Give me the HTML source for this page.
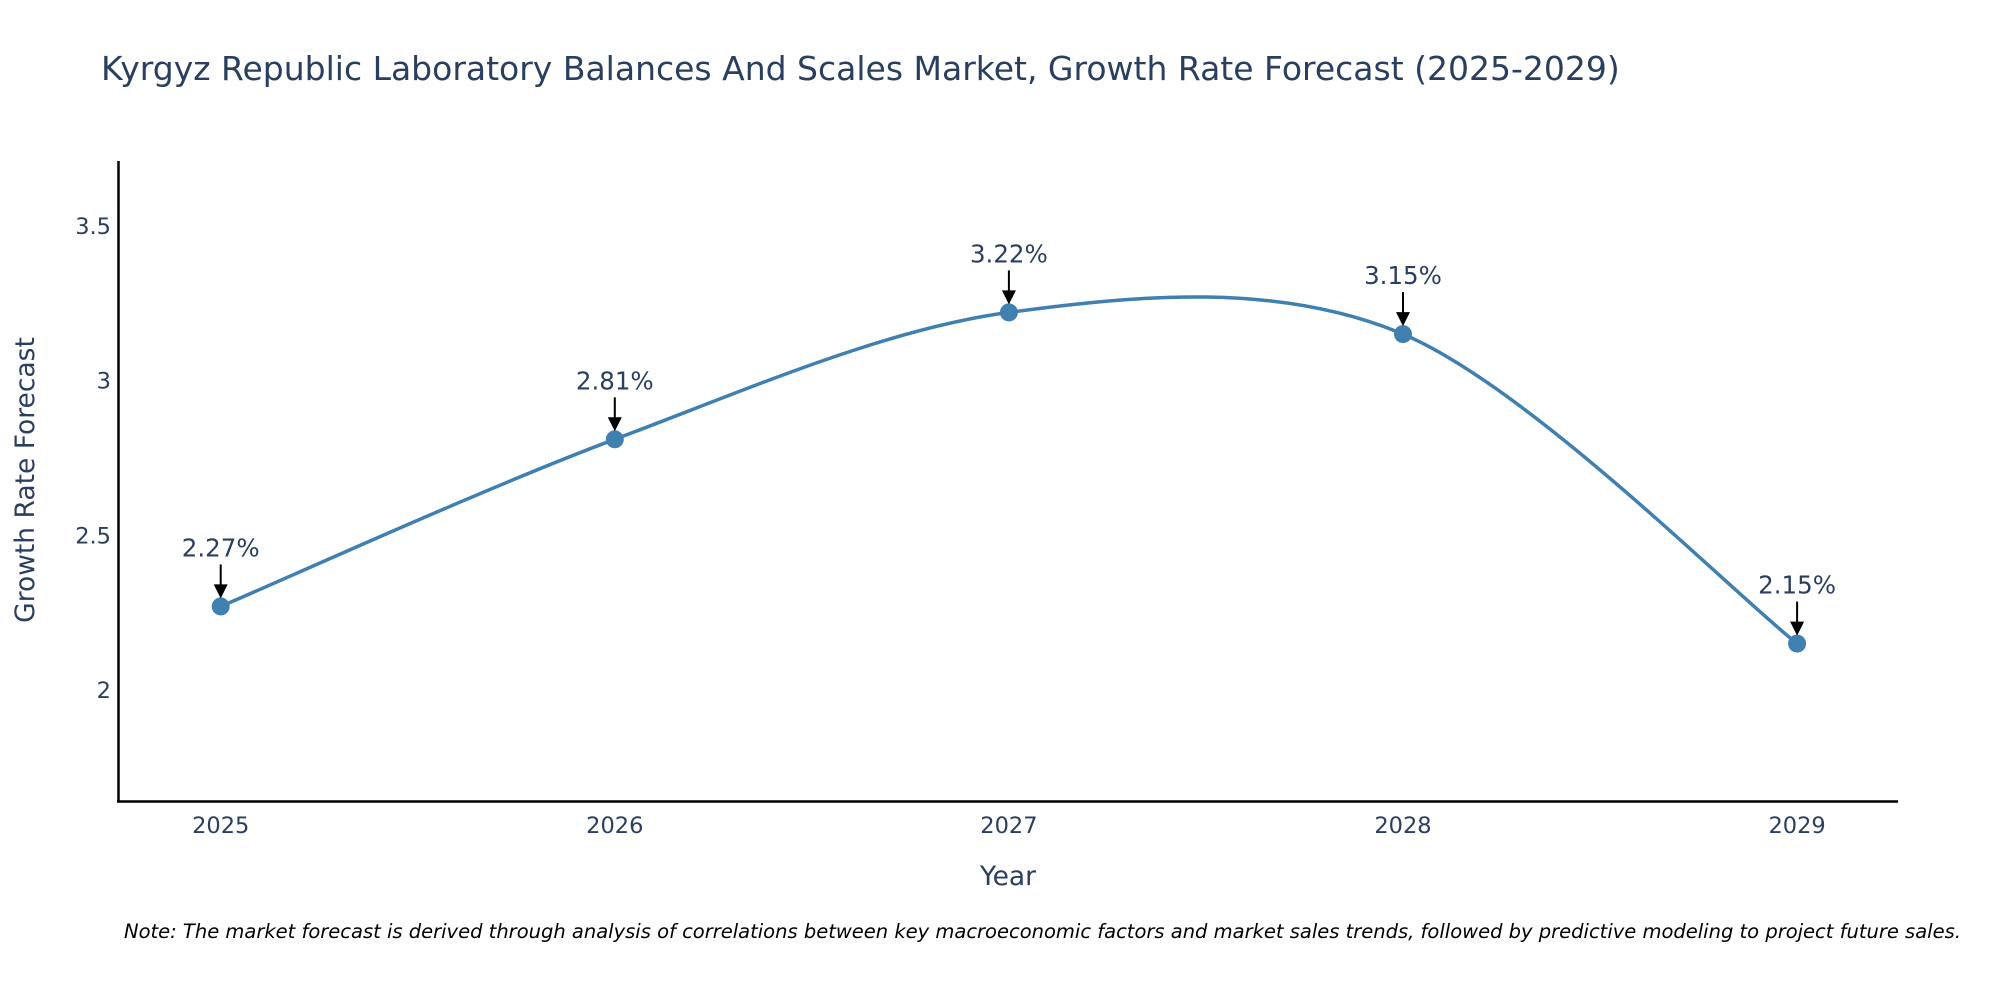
<!DOCTYPE html>
<html><head><meta charset="utf-8"><style>
body{margin:0;background:#fff;}
svg{display:block;font-family:"DejaVu Sans","Liberation Sans",sans-serif;}
</style></head><body>
<svg id="chart" width="2000" height="1000" viewBox="0 0 2000 1000">
<rect width="2000" height="1000" fill="#fff"/>
<text x="101" y="80" font-size="33" fill="#2a3f5f">Kyrgyz Republic Laboratory Balances And Scales Market, Growth Rate Forecast (2025-2029)</text>
<g id="yticks"></g>
<g id="xticks"></g>
<line x1="118.5" y1="161" x2="118.5" y2="802" stroke="#000" stroke-width="2.5"/>
<line x1="117" y1="801.5" x2="1898" y2="801.5" stroke="#000" stroke-width="2.5"/>
<text transform="translate(34,480) rotate(-90)" text-anchor="middle" font-size="26.5" fill="#2a3f5f">Growth Rate Forecast</text>
<text x="1008" y="885" text-anchor="middle" font-size="26.5" fill="#2a3f5f">Year</text>
<g id="series"></g>
<text x="124" y="938" font-size="19.5" font-style="italic" fill="#000">Note: The market forecast is derived through analysis of correlations between key macroeconomic factors and market sales trends, followed by predictive modeling to project future sales.</text>
</svg>
<script>
const years = [2025, 2026, 2027, 2028, 2029];
const growth = [2.27, 2.81, 3.22, 3.15, 2.15];
const labels = ["2.27%", "2.81%", "3.22%", "3.15%", "2.15%"];
const yTickVals = [2, 2.5, 3, 3.5];
const yTickText = ["2", "2.5", "3", "3.5"];

const NS = "http://www.w3.org/2000/svg";
const xS = v => 220.7 + (v - 2025) * 394.1;
const yS = v => 690 - (v - 2) * 309.5;
function mk(tag, attrs, parent) {
  const e = document.createElementNS(NS, tag);
  for (const k in attrs) e.setAttribute(k, attrs[k]);
  parent.appendChild(e);
  return e;
}
const yt = document.getElementById("yticks");
yTickVals.forEach((v, i) => {
  const t = mk("text", {x: 111, y: yS(v) + 8, "text-anchor": "end", "font-size": 22.5, fill: "#2a3f5f"}, yt);
  
  
  t.textContent = yTickText[i];
});
const xt = document.getElementById("xticks");
years.forEach(y => {
  const t = mk("text", {x: xS(y), y: 833, "text-anchor": "middle", "font-size": 22.5, fill: "#2a3f5f"}, xt);
  
  
  t.textContent = y;
});
const g = document.getElementById("series");
const pts = years.map((y, i) => [xS(y), yS(growth[i])]);
let d = "M" + pts[0][0] + "," + pts[0][1];
const s = 0.16;
for (let i = 0; i < pts.length - 1; i++) {
  const p0 = pts[i - 1] || pts[i], p1 = pts[i], p2 = pts[i + 1], p3 = pts[i + 2] || pts[i + 1];
  const c1 = [p1[0] + (p2[0] - p0[0]) * s, p1[1] + (p2[1] - p0[1]) * s];
  const c2 = [p2[0] - (p3[0] - p1[0]) * s, p2[1] - (p3[1] - p1[1]) * s];
  d += " C" + c1 + " " + c2 + " " + p2;
}
const line = mk("path", {d: d, fill: "none", stroke: "#3f80b0", "stroke-width": 3.5}, g);


pts.forEach((p, i) => {
  const c = mk("circle", {cx: p[0], cy: p[1], r: 9, fill: "#3f80b0"}, g);
  
  
  const a = mk("line", {x1: p[0], y1: p[1] - 42, x2: p[0], y2: p[1] - 20, stroke: "#000", "stroke-width": 2}, g);
  
  
  const h = mk("polygon", {points: (p[0] - 7) + "," + (p[1] - 22) + " " + (p[0] + 7) + "," + (p[1] - 22) + " " + p[0] + "," + (p[1] - 8), fill: "#000"}, g);
  
  
  const t = mk("text", {x: p[0], y: p[1] - 50, "text-anchor": "middle", "font-size": 24.5, fill: "#2a3f5f"}, g);
  
  
  t.textContent = labels[i];
});
</script>
</body></html>
